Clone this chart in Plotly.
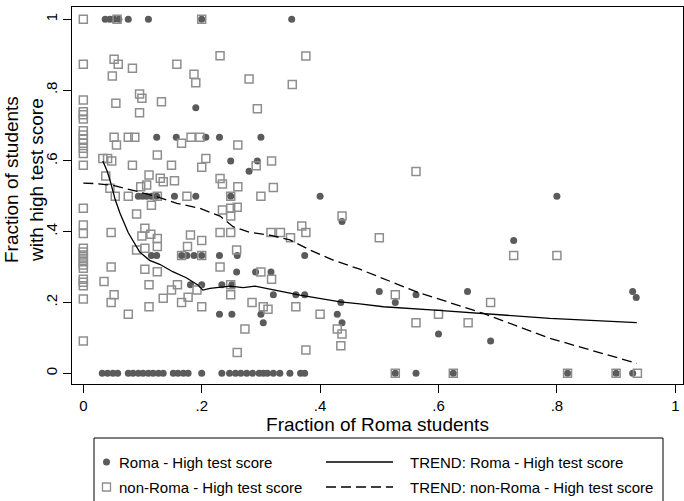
import plotly.graph_objects as go

# Roma pupils: share with a high test score by school share of Roma students
roma_x = [0.037, 0.045, 0.052, 0.060, 0.076, 0.110, 0.200, 0.352,
          0.190,
          0.124, 0.157, 0.207, 0.230, 0.300,
          0.249, 0.294, 0.280,
          0.093, 0.100, 0.107, 0.115, 0.124, 0.154, 0.190, 0.249, 0.400, 0.800,
          0.437, 0.727,
          0.115, 0.124, 0.166, 0.175, 0.187, 0.200, 0.230, 0.260, 0.374,
          0.259, 0.291, 0.317,
          0.181, 0.200, 0.234, 0.251,
          0.500, 0.649, 0.928,
          0.321, 0.359, 0.374, 0.562,
          0.934, 0.435, 0.527,
          0.230, 0.251, 0.300, 0.429,
          0.304, 0.437, 0.600, 0.688,
          0.032, 0.041, 0.050, 0.058, 0.076, 0.084, 0.093, 0.101, 0.110, 0.118,
          0.127, 0.135, 0.152, 0.160, 0.169, 0.177, 0.200, 0.234, 0.247, 0.257,
          0.266, 0.276, 0.286, 0.297, 0.304, 0.311, 0.321, 0.332, 0.349, 0.367,
          0.374, 0.527, 0.562, 0.625, 0.818, 0.900, 0.928]
roma_y = [1.000, 1.000, 1.000, 1.000, 1.000, 1.000, 1.000, 1.000,
          0.750,
          0.667, 0.667, 0.667, 0.667, 0.667,
          0.600, 0.600, 0.571,
          0.500, 0.500, 0.500, 0.500, 0.500, 0.500, 0.500, 0.500, 0.500, 0.500,
          0.429, 0.375,
          0.333, 0.333, 0.333, 0.333, 0.333, 0.333, 0.333, 0.333, 0.333,
          0.286, 0.286, 0.286,
          0.250, 0.250, 0.250, 0.250,
          0.231, 0.231, 0.231,
          0.222, 0.222, 0.222, 0.222,
          0.214, 0.200, 0.200,
          0.167, 0.167, 0.167, 0.167,
          0.143, 0.143, 0.111, 0.091,
          0.0, 0.0, 0.0, 0.0, 0.0, 0.0, 0.0, 0.0, 0.0, 0.0,
          0.0, 0.0, 0.0, 0.0, 0.0, 0.0, 0.0, 0.0, 0.0, 0.0,
          0.0, 0.0, 0.0, 0.0, 0.0, 0.0, 0.0, 0.0, 0.0, 0.0,
          0.0, 0.0, 0.0, 0.0, 0.0, 0.0, 0.0]

# non-Roma pupils
nonroma_x = [0.000, 0.057, 0.200,
             0.231, 0.376, 0.052,
             0.000, 0.059, 0.158, 0.083, 0.187, 0.049, 0.280, 0.190, 0.353,
             0.095, 0.099, 0.000, 0.132, 0.055, 0.294,
             0.000, 0.095, 0.000, 0.000,
             0.000, 0.000, 0.000, 0.000, 0.000, 0.000, 0.000,
             0.052, 0.076, 0.087, 0.182, 0.197,
             0.166, 0.056, 0.261, 0.125,
             0.033, 0.041, 0.207, 0.048, 0.318,
             0.083, 0.149, 0.292, 0.200, 0.562,
             0.038, 0.111, 0.231, 0.130, 0.135, 0.154, 0.235,
             0.097, 0.107, 0.261, 0.321, 0.045,
             0.054, 0.076, 0.125, 0.175, 0.249, 0.300,
             0.115, 0.000, 0.249, 0.235, 0.260, 0.090, 0.249, 0.437,
             0.000, 0.369, 0.104, 0.000,
             0.047, 0.231, 0.249, 0.317, 0.333, 0.376,
             0.114, 0.181, 0.099, 0.125, 0.350, 0.500, 0.200,
             0.125, 0.176, 0.104, 0.090, 0.259,
             0.000, 0.000, 0.000, 0.000, 0.000, 0.000, 0.000,
             0.166, 0.200, 0.727, 0.800,
             0.047, 0.231, 0.104, 0.125, 0.300, 0.318,
             0.000, 0.000, 0.000, 0.035,
             0.111, 0.159, 0.249,
             0.149, 0.192, 0.052, 0.249, 0.527, 0.177, 0.135, 0.000,
             0.047, 0.166, 0.285, 0.688,
             0.111, 0.200, 0.304, 0.359, 0.312,
             0.076, 0.400, 0.600, 0.562, 0.650,
             0.273, 0.429, 0.437, 0.000, 0.435, 0.376, 0.260,
             0.527, 0.625, 0.818, 0.900, 0.936]
nonroma_y = [1.000, 1.000, 1.000,
             0.897, 0.896, 0.887,
             0.873, 0.873, 0.873, 0.862, 0.845, 0.840, 0.831, 0.821, 0.816,
             0.789, 0.777, 0.772, 0.767, 0.763, 0.747,
             0.739, 0.736, 0.730, 0.718,
             0.685, 0.673, 0.661, 0.650, 0.636, 0.621, 0.588,
             0.667, 0.667, 0.667, 0.667, 0.667,
             0.650, 0.645, 0.645, 0.617,
             0.607, 0.607, 0.607, 0.600, 0.600,
             0.588, 0.588, 0.586, 0.582, 0.570,
             0.557, 0.560, 0.550, 0.551, 0.541, 0.544, 0.535,
             0.527, 0.532, 0.527, 0.525, 0.523,
             0.500, 0.500, 0.500, 0.500, 0.500, 0.500,
             0.475, 0.466, 0.466, 0.461, 0.469, 0.450, 0.444, 0.444,
             0.419, 0.416, 0.410, 0.395,
             0.398, 0.398, 0.398, 0.398, 0.398, 0.398,
             0.393, 0.391, 0.388, 0.381, 0.383, 0.383, 0.375,
             0.358, 0.358, 0.353, 0.348, 0.348,
             0.353, 0.343, 0.334, 0.325, 0.315, 0.306, 0.297,
             0.333, 0.333, 0.333, 0.333,
             0.300, 0.300, 0.294, 0.287, 0.286, 0.266,
             0.266, 0.257, 0.247, 0.259,
             0.250, 0.250, 0.250,
             0.235, 0.235, 0.222, 0.222, 0.222, 0.215, 0.212, 0.210,
             0.200, 0.200, 0.200, 0.200,
             0.188, 0.188, 0.188, 0.188, 0.181,
             0.167, 0.167, 0.167, 0.143, 0.143,
             0.125, 0.125, 0.111, 0.091, 0.078, 0.066, 0.059,
             0.0, 0.0, 0.0, 0.0, 0.0]

# Smoothed trends
roma_trend_x = [0.033, 0.040, 0.045, 0.054, 0.062, 0.076, 0.095, 0.112, 0.129,
                0.151, 0.174, 0.194, 0.202, 0.214, 0.248, 0.270, 0.290, 0.310,
                0.330, 0.366, 0.434, 0.467, 0.507, 0.600, 0.676, 0.788, 0.935]
roma_trend_y = [0.600, 0.572, 0.546, 0.490, 0.452, 0.397, 0.343, 0.319, 0.308,
                0.287, 0.270, 0.249, 0.235, 0.240, 0.246, 0.242, 0.246, 0.240,
                0.233, 0.221, 0.202, 0.196, 0.188, 0.178, 0.169, 0.155, 0.143]
nonroma_trend_x = [0.000, 0.020, 0.050, 0.073, 0.100, 0.124, 0.158, 0.197, 0.231,
                   0.253, 0.282, 0.315, 0.349, 0.383, 0.422, 0.467, 0.563, 0.676,
                   0.788, 0.935]
nonroma_trend_y = [0.537, 0.536, 0.531, 0.522, 0.510, 0.499, 0.480, 0.466, 0.444,
                   0.414, 0.398, 0.390, 0.377, 0.348, 0.320, 0.294, 0.230, 0.169,
                   0.099, 0.028]

tick_vals = [0, 0.2, 0.4, 0.6, 0.8, 1]
tick_text = ["0", ".2", ".4", ".6", ".8", "1"]

legend_labels = ["Roma - High test score", "non-Roma - High test score",
                 "TREND: Roma - High test score", "TREND: non-Roma - High test score"]
y_title = "Fraction of students<br>with high test score"
x_title = "Fraction of Roma students"

FONT = "Liberation Sans, Arial, sans-serif"
W, H = 684, 501
ML, MR, MT, MB = 72, 1, 7, 117
PW, PH = W - ML - MR, H - MT - MB

CIRCLE_COL = "#5b5b5b"
SQUARE_COL = "#8e8e8e"

fig = go.Figure()
fig.add_trace(go.Scatter(
    x=roma_x, y=roma_y, mode="markers", name=legend_labels[0],
    marker=dict(symbol="circle", size=7, color=CIRCLE_COL, line=dict(width=0)),
    cliponaxis=False, showlegend=False))
fig.add_trace(go.Scatter(
    x=nonroma_x, y=nonroma_y, mode="markers", name=legend_labels[1],
    marker=dict(symbol="square-open", size=8, color=SQUARE_COL,
                line=dict(width=1.5, color=SQUARE_COL)),
    cliponaxis=False, showlegend=False))
fig.add_trace(go.Scatter(
    x=roma_trend_x, y=roma_trend_y, mode="lines", name=legend_labels[2],
    line=dict(color="black", width=1.3), showlegend=False))
fig.add_trace(go.Scatter(
    x=nonroma_trend_x, y=nonroma_trend_y, mode="lines", name=legend_labels[3],
    line=dict(color="black", width=1.3, dash="10px,5px"), showlegend=False))


def px_x(px):
    return (px - ML) / PW


def px_y(py):
    return (H - MB - py) / PH


shapes = []
annotations = []

# legend frame
shapes.append(dict(type="rect", xref="paper", yref="paper",
                   x0=px_x(94), x1=px_x(663), y0=px_y(504), y1=px_y(438),
                   line=dict(color="black", width=1), fillcolor="white"))

row_y = [462, 487]
# legend keys
shapes.append(dict(type="circle", xref="paper", yref="paper",
                   x0=px_x(103), x1=px_x(110), y0=px_y(row_y[0] + 3.5), y1=px_y(row_y[0] - 3.5),
                   line=dict(width=0), fillcolor=CIRCLE_COL))
shapes.append(dict(type="rect", xref="paper", yref="paper",
                   x0=px_x(102.5), x1=px_x(110.5), y0=px_y(row_y[1] + 4), y1=px_y(row_y[1] - 4),
                   line=dict(width=1.3, color=SQUARE_COL)))
shapes.append(dict(type="line", xref="paper", yref="paper",
                   x0=px_x(326), x1=px_x(393), y0=px_y(row_y[0]), y1=px_y(row_y[0]),
                   line=dict(color="black", width=1.3)))
shapes.append(dict(type="line", xref="paper", yref="paper",
                   x0=px_x(326), x1=px_x(393), y0=px_y(row_y[1]), y1=px_y(row_y[1]),
                   line=dict(color="black", width=1.3, dash="10px,5px")))

text_pos = [(117, row_y[0]), (117, row_y[1]), (408, row_y[0]), (408, row_y[1])]
for label, (tx, ty) in zip(legend_labels, text_pos):
    annotations.append(dict(text=label, xref="paper", yref="paper",
                            x=px_x(tx), y=px_y(ty), xanchor="left", yanchor="middle",
                            showarrow=False, font=dict(family=FONT, size=15, color="black")))

# y-axis title, two rotated lines
annotations.append(dict(text=y_title, xref="paper", yref="paper",
                        x=px_x(24), y=px_y(180), xanchor="center", yanchor="middle",
                        textangle=-90, showarrow=False,
                        font=dict(family=FONT, size=19, color="black")))

fig.update_layout(
    width=W, height=H,
    margin=dict(l=ML, r=MR, t=MT, b=MB),
    paper_bgcolor="white", plot_bgcolor="white",
    font=dict(family=FONT, color="black"),
    showlegend=False,
    shapes=shapes, annotations=annotations,
    xaxis=dict(range=[-0.0191, 1.013], tickvals=tick_vals, ticktext=tick_text,
               ticks="outside", ticklen=8, tickwidth=1, tickcolor="black",
               showline=True, mirror=True, linecolor="black", linewidth=1,
               showgrid=False, zeroline=False,
               tickfont=dict(family=FONT, size=15, color="black"),
               title=dict(text=x_title, standoff=0,
                          font=dict(family=FONT, size=19, color="black"))),
    yaxis=dict(range=[-0.0302, 1.0347], tickvals=tick_vals, ticktext=tick_text,
               tickangle=-90,
               ticks="outside", ticklen=8, tickwidth=1, tickcolor="black",
               showline=True, mirror=True, linecolor="black", linewidth=1,
               showgrid=False, zeroline=False,
               tickfont=dict(family=FONT, size=15, color="black")),
)

fig.write_html("out.html")
